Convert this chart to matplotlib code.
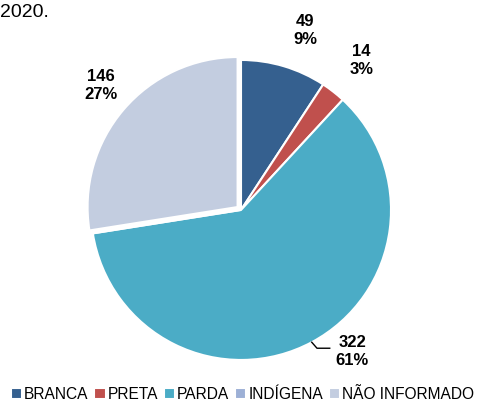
import numpy as np
import matplotlib
matplotlib.use("Agg")
import matplotlib.pyplot as plt

plt.rcParams['font.family'] = ['Liberation Sans', 'DejaVu Sans']

categories = ['BRANCA', 'PRETA', 'PARDA', 'INDÍGENA', 'NÃO INFORMADO']
values = [49, 14, 322, 0, 146]
colors = ['#35608F', '#C0504D', '#4BACC6', '#9DB0D6', '#C3CDE0']
explode = [0, 0, 0, 0, 0.03]

fig = plt.figure(figsize=(4.78, 4.04), dpi=100)
ax = fig.add_axes([0.1904, 0.109, 0.6276, 0.7426])

wedges, _ = ax.pie(values, colors=colors, startangle=90, counterclock=False,
                   explode=explode, radius=1,
                   wedgeprops=dict(edgecolor='white', linewidth=1.5))
ax.set_xlim(-1, 1)
ax.set_ylim(-1, 1)
ax.set_aspect('equal')

total = sum(values)
# label radius / angle tweak for each slice (deg)
lab_r = [1.27, 1.28, 1.2, None, 1.25]
lab_da = [-3, -1, 10, 0, -1]
for i, w in enumerate(wedges):
    if values[i] == 0:
        continue
    mid = (w.theta1 + w.theta2) / 2
    a = np.deg2rad(mid + lab_da[i])
    x = lab_r[i] * np.cos(a)
    y = lab_r[i] * np.sin(a)
    pct = round(values[i] / total * 100)
    ax.text(x, y, f"{values[i]}\n{pct}%", ha='center', va='center',
            fontsize=12, fontweight='bold', linespacing=1.3)
    if categories[i] == 'PARDA':
        m = np.deg2rad(mid)
        x0, y0 = np.cos(m), np.sin(m)
        ax.plot([x0, x0 + 0.035, x0 + 0.12], [y0, y0 - 0.04, y0 - 0.04],
                color='black', lw=1, clip_on=False)

leg = fig.legend(wedges, categories, loc='lower center', ncol=5,
                 bbox_to_anchor=(0.507, -0.018), frameon=False, fontsize=11.2,
                 handlelength=0.75, handleheight=0.75, handletextpad=0.12,
                 columnspacing=0.35, borderaxespad=0.2)

fig.text(0.0, 0.99, "2020.", ha='left', va='top', fontsize=14)

fig.savefig("out.png", dpi=100)
